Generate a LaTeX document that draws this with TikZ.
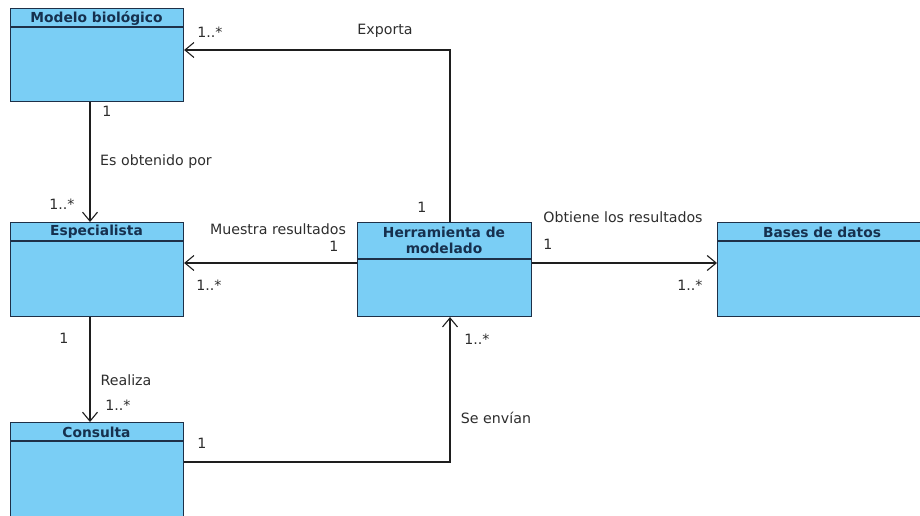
\documentclass[tikz,border=0pt]{standalone}
\usepackage{fontspec}
\setmainfont{DejaVu Sans}
\usetikzlibrary{arrows.meta,calc}
\definecolor{classfill}{RGB}{122,206,245}
\definecolor{classedge}{RGB}{30,48,72}
\definecolor{classtitle}{RGB}{22,48,78}
\definecolor{linkcol}{RGB}{30,30,30}
\definecolor{labelcol}{RGB}{45,45,45}
\tikzset{
  classbox/.style={draw=classedge, fill=classfill, line width=1.1pt, rectangle,
    anchor=north west, inner sep=0pt},
  classname/.style={font=\fontsize{13.8}{16.5}\selectfont\bfseries, text=classtitle,
    align=center, inner sep=0pt},
  headrule/.style={draw=classedge, line width=1.1pt},
  assoc/.style={draw=linkcol, line width=1.1pt,
    -{Straight Barb[length=9pt,width=15pt,line width=1.1pt]}},
  lbl/.style={font=\fontsize{14.2}{16}\selectfont, text=labelcol, inner sep=0pt}
}
\begin{document}
\begin{tikzpicture}[x=1pt,y=-1pt]
\useasboundingbox (0,0) rectangle (920,516);
\clip (0,0) rectangle (920,516);

% classes
\node[classbox, minimum width=173pt, minimum height=93pt] (modelo) at (10,8) {};
\draw[headrule] (10,27) -- (183,27);
\node[classname] (modeloT) at (96.5,18) {Modelo biológico};

\node[classbox, minimum width=173pt, minimum height=94pt] (espec) at (10,222) {};
\draw[headrule] (10,241) -- (183,241);
\node[classname] (especT) at (96.5,232) {Especialista};

\node[classbox, minimum width=173pt, minimum height=100pt] (consulta) at (10,422) {};
\draw[headrule] (10,441) -- (183,441);
\node[classname] (consultaT) at (96.5,432) {Consulta};

\node[classbox, minimum width=174pt, minimum height=94pt] (herr) at (357,222) {};
\draw[headrule] (357,259) -- (531,259);
\node[classname] (herrT) at (444,240.5) {Herramienta de\\modelado};

\node[classbox, minimum width=210pt, minimum height=94pt] (bases) at (717,222) {};
\draw[headrule] (717,241) -- (925,241);
\node[classname] (basesT) at (822,232) {Bases de datos};

% routing points
\coordinate (expo) at (450,50);
\coordinate (obt) at (90,0);
\coordinate (mues) at (0,263);
\coordinate (env) at (450,462);

% associations
\draw[assoc] (herr.north -| expo) |- (modelo.east |- expo);
\draw[assoc] (modelo.south -| obt) -- (espec.north -| obt);
\draw[assoc] (herr.west |- mues) -- (espec.east |- mues);
\draw[assoc] (herr.east |- mues) -- (bases.west |- mues);
\draw[assoc] (espec.south -| obt) -- (consulta.north -| obt);
\draw[assoc] (consulta.east |- env) -| (herr.south -| env);

% labels
\node[lbl] (l1) at (210,32) {1..*};
\node[lbl] (l2) at (385,31) {Exporta};
\node[lbl] (l3) at (422,207) {1};
\node[lbl] (l4) at (107,111) {1};
\node[lbl] (l5) at (156,162) {Es obtenido por};
\node[lbl] (l6) at (62,204) {1..*};
\node[lbl] (l7) at (278,229) {Muestra resultados};
\node[lbl] (l8) at (334,246) {1};
\node[lbl] (l9) at (209,285) {1..*};
\node[lbl] (l10) at (623,217) {Obtiene los resultados};
\node[lbl] (l11) at (548,244) {1};
\node[lbl] (l12) at (690,285) {1..*};
\node[lbl] (l13) at (64,338) {1};
\node[lbl] (l14) at (126,380) {Realiza};
\node[lbl] (l15) at (118,405) {1..*};
\node[lbl] (l16) at (202,443) {1};
\node[lbl] (l17) at (496,418) {Se envían};
\node[lbl] (l18) at (477,339) {1..*};
\end{tikzpicture}
\end{document}
